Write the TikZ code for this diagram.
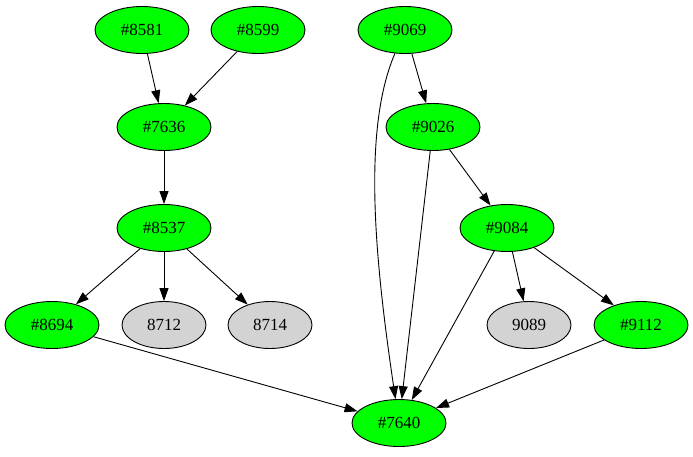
\documentclass[tikz,border=0pt]{standalone}
\usepackage{fontspec}
\setmainfont{Liberation Serif}
\usetikzlibrary{shapes.geometric,arrows.meta}
\begin{document}
\begin{tikzpicture}[x=1pt,y=-1pt,
  base/.style={ellipse,draw=black,line width=0.9pt,inner sep=0pt,font=\fontsize{17}{19}\selectfont},
  gnode/.style={base,fill=green,minimum width=94pt,minimum height=47pt},
  qnode/.style={base,fill={rgb,255:red,211;green,211;blue,211},minimum width=84pt,minimum height=47pt},
  edge/.style={draw=black,line width=0.9pt,-{Triangle[length=13pt,width=9pt]}}]
\useasboundingbox (0,0) rectangle (693,456);
\node[gnode] (n8581) at (142,30) {\#8581};
\node[gnode] (n8599) at (258,30) {\#8599};
\node[gnode] (n9069) at (405,30) {\#9069};
\node[gnode] (n7636) at (164,127) {\#7636};
\node[gnode] (n9026) at (433,127) {\#9026};
\node[gnode] (n8537) at (164,228) {\#8537};
\node[gnode] (n9084) at (507,228) {\#9084};
\node[gnode] (n8694) at (52,325) {\#8694};
\node[qnode] (n8712) at (164,325) {8712};
\node[qnode] (n8714) at (270,325) {8714};
\node[qnode] (n9089) at (529,325) {9089};
\node[gnode] (n9112) at (641,325) {\#9112};
\node[gnode] (n7640) at (399,423) {\#7640};
\draw[edge] (n8581) -- (n7636);
\draw[edge] (n8599) -- (n7636);
\draw[edge] (n7636) -- (n8537);
\draw[edge] (n8537) -- (n8694);
\draw[edge] (n8537) -- (n8712);
\draw[edge] (n8537) -- (n8714);
\draw[edge] (n9069) -- (n9026);
\draw[edge] (n9026) -- (n9084);
\draw[edge] (n9084) -- (n9089);
\draw[edge] (n9084) -- (n9112);
\draw[edge] (n9069) .. controls (362,130) and (375,260) .. (n7640);
\draw[edge] (n9026) -- (n7640);
\draw[edge] (n9084) -- (n7640);
\draw[edge] (n9112) -- (n7640);
\draw[edge] (n8694) -- (n7640);
\end{tikzpicture}
\end{document}
